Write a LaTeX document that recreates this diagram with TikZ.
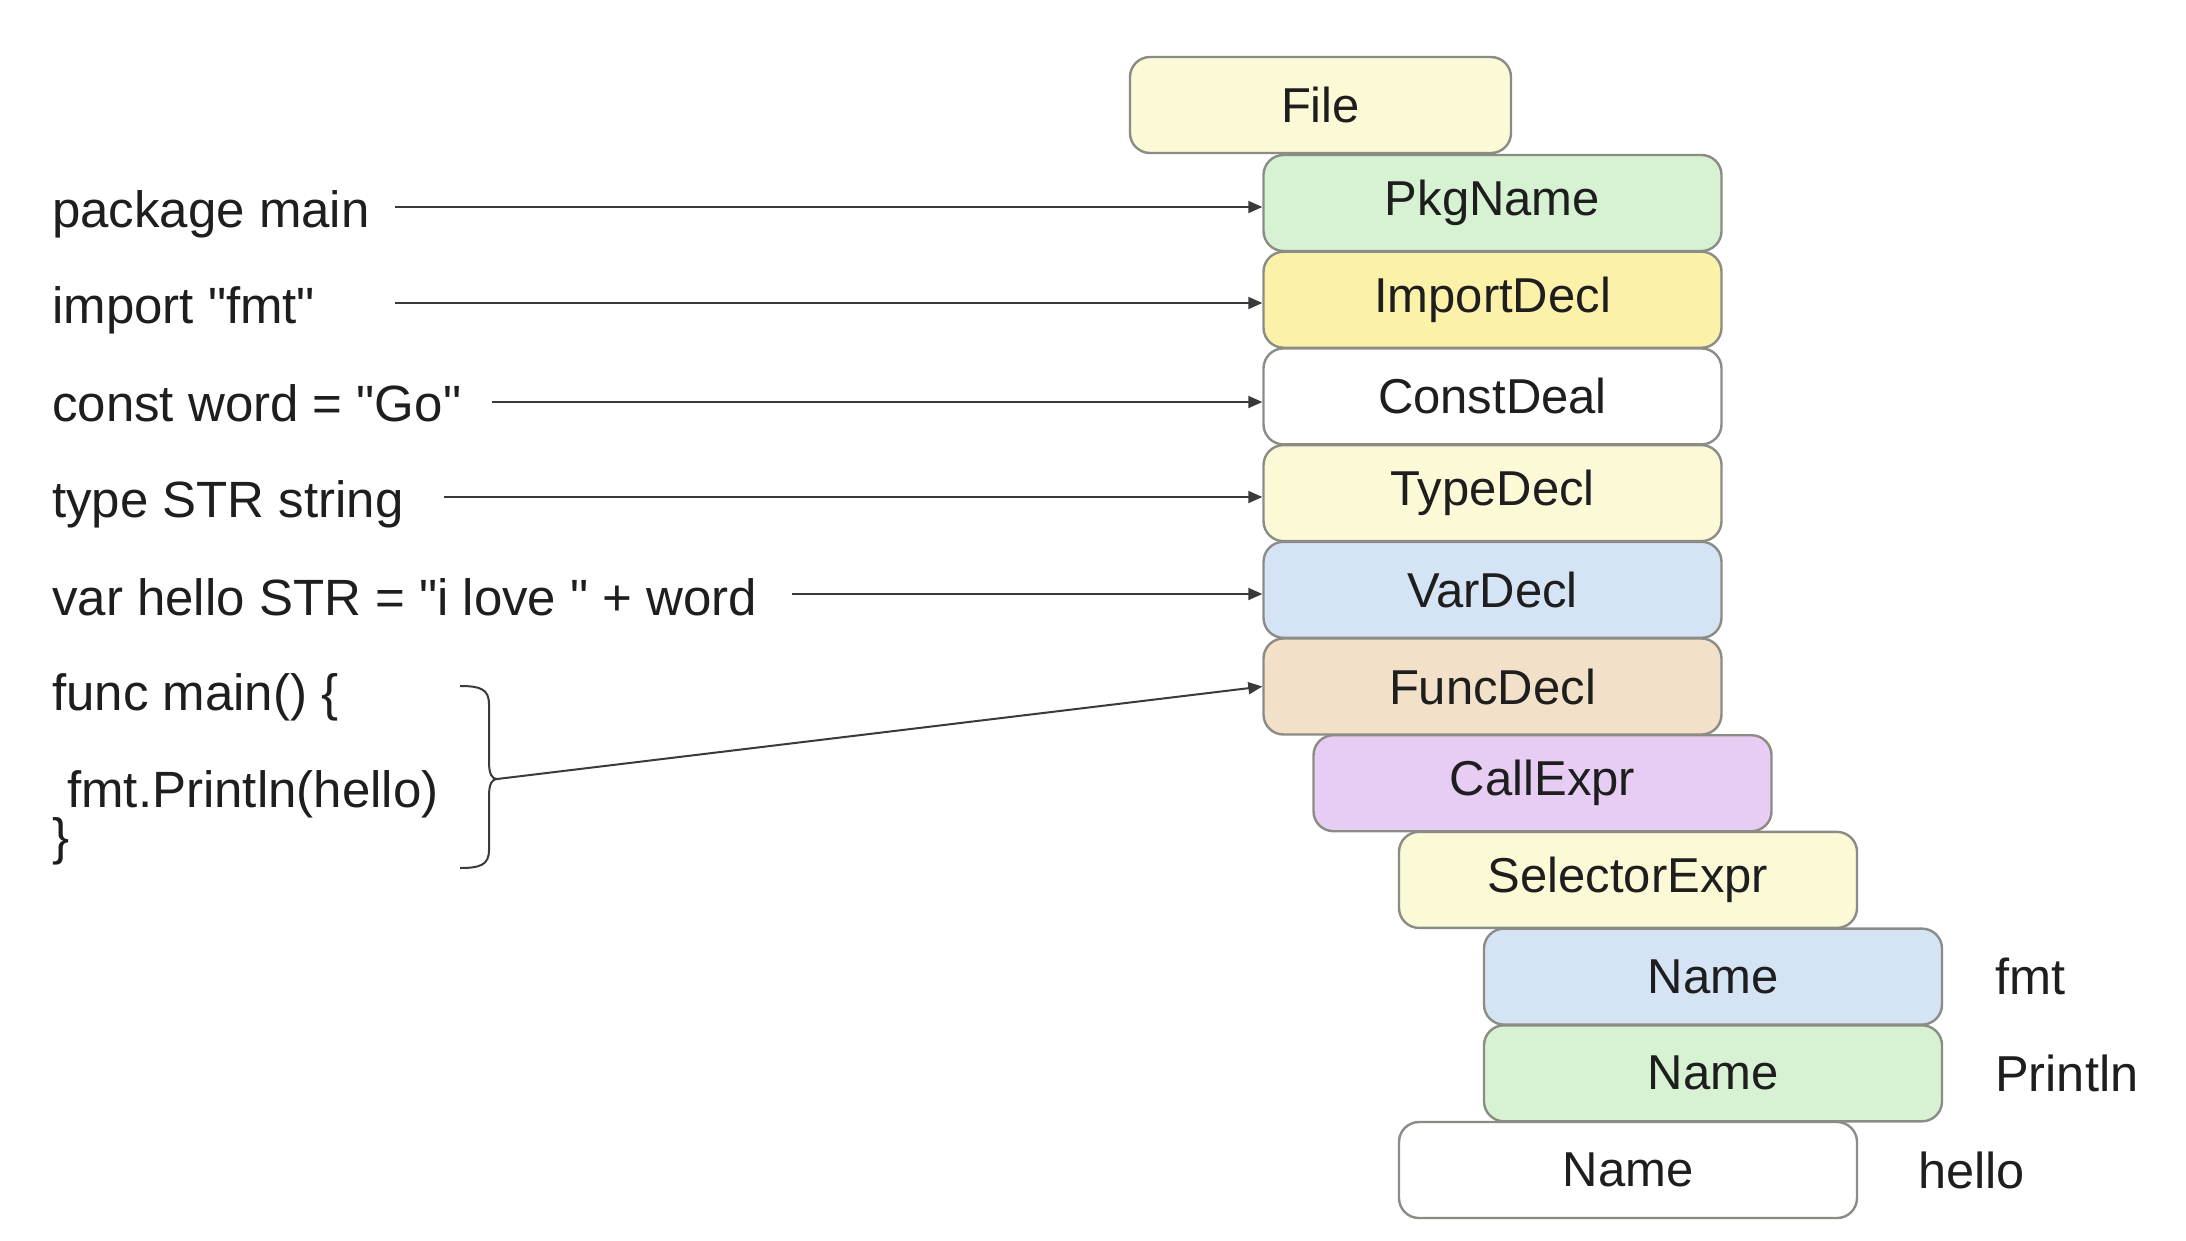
\documentclass[tikz,border=0pt]{standalone}
\usepackage{fontspec}
\setmainfont{Liberation Sans}
\newfontfamily\plainsans{Liberation Sans}
\usetikzlibrary{arrows.meta}
\definecolor{bordergray}{HTML}{8C8C86}
\definecolor{txt}{HTML}{1E1E1E}
\definecolor{lineg}{HTML}{3A3A3A}
\definecolor{cpale}{HTML}{FCF9D7}
\definecolor{cgreen}{HTML}{D7F2D2}
\definecolor{cyellow}{HTML}{FCF1A8}
\definecolor{cblue}{HTML}{D5E4F5}
\definecolor{ctan}{HTML}{F3E0C9}
\definecolor{clav}{HTML}{E7CDF4}
\begin{document}
\begin{tikzpicture}[x=1pt,y=-1pt,
  ast/.style={draw=bordergray, line width=2.4pt, rounded corners=20pt,
    minimum width=458pt, minimum height=96pt, inner sep=0pt,
    font=\plainsans\fontsize{49}{58}\selectfont, text=txt},
  code/.style={anchor=base west, inner sep=0pt, font=\plainsans\fontsize{51}{60}\selectfont, text=txt},
  side/.style={anchor=west, inner sep=0pt, font=\plainsans\fontsize{50.5}{60}\selectfont, text=txt},
  arr/.style={draw=lineg, line width=2pt, -{Triangle[length=14pt,width=12pt]}},
  bracestyle/.style={draw=lineg, line width=2pt}]
\fill[white] (0,0) rectangle (2186,1240);
\useasboundingbox (0,0) rectangle (2186,1240);

% boxes
\node[ast, fill=cpale, minimum width=381pt] (file) at (1320.5,105) {File};
\node[ast, fill=cgreen]  (b1)  at (1492.5,203.0) {PkgName};
\node[ast, fill=cyellow] (b2)  at (1492.5,299.7) {ImportDecl};
\node[ast, fill=white]   (b3)  at (1492.5,396.4) {ConstDeal};
\node[ast, fill=cpale]   (b4)  at (1492.5,493.1) {TypeDecl};
\node[ast, fill=cblue]   (b5)  at (1492.5,589.8) {VarDecl};
\node[ast, fill=ctan]    (b6)  at (1492.5,686.5) {FuncDecl};
\node[ast, fill=clav]    (b7)  at (1542.5,783.2) {CallExpr};
\node[ast, fill=cpale]   (b8)  at (1628,879.9) {SelectorExpr};
\node[ast, fill=cblue]   (b9)  at (1713,976.6) {Name};
\node[ast, fill=cgreen]  (b10) at (1713,1073.3) {Name};
\node[ast, fill=white]   (b11) at (1628,1170) {Name};

% side labels
\node[side] (l9)  at (1995,976.6)  {fmt};
\node[side] (l10) at (1995,1073.3) {Println};
\node[side] (l11) at (1918,1170)   {hello};

% code text
\node[code] (t1) at (52,227) {package main};
\node[code] (t2) at (52,323) {import "fmt"};
\node[code] (t3) at (52,421) {const word = "Go"};
\node[code] (t4) at (52,517) {type STR string};
\node[code] (t5) at (52,615) {var hello STR = "i love " + word};
\node[code] (t6) at (52,710) {func main() \{};
\node[code] (t7) at (67,807) {fmt.Println(hello)};
\node[code] (t8) at (52,854) {\}};

% arrow starts
\coordinate (s1) at (395,207);
\coordinate (s2) at (395,303);
\coordinate (s3) at (492,402);
\coordinate (s4) at (444,497);
\coordinate (s5) at (792,594);
\coordinate (bt) at (497,779);

\draw[arr] (s1) -- (s1 -| b1.west);
\draw[arr] (s2) -- (s2 -| b2.west);
\draw[arr] (s3) -- (s3 -| b3.west);
\draw[arr] (s4) -- (s4 -| b4.west);
\draw[arr] (s5) -- (s5 -| b5.west);

% brace
\draw[bracestyle] (460,686) .. controls (480,686) and (489,689) .. (489,704)
  -- (489,762) .. controls (489,774) and (492,779) .. (bt)
  .. controls (492,779) and (489,784) .. (489,796)
  -- (489,850) .. controls (489,865) and (480,868) .. (460,868);
\draw[arr] (bt) -- (b6.west);
\end{tikzpicture}
\end{document}
